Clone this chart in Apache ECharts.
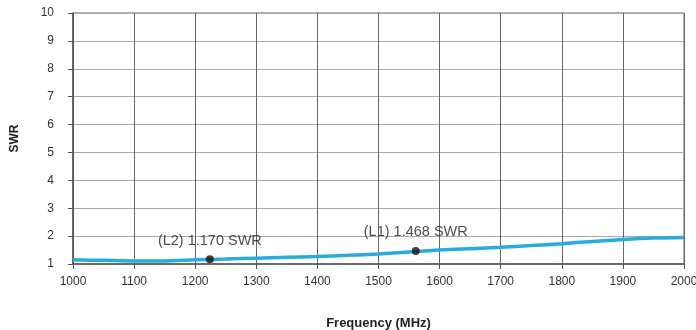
<!DOCTYPE html>
<html><head><meta charset="utf-8">
<script src="https://cdn.jsdelivr.net/npm/echarts@6/dist/echarts.min.js"></script>
<style>html,body{margin:0;padding:0;background:#fff}#c{width:696px;height:330px}</style>
</head><body><div id="c"></div>
<script>
const freq = [1000, 1050, 1100, 1150, 1200, 1250, 1300, 1350, 1400, 1450, 1500, 1550, 1600, 1650, 1700, 1750, 1800, 1850, 1900, 1950, 2000];
const swr  = [1.15, 1.13, 1.11, 1.11, 1.15, 1.18, 1.21, 1.24, 1.27, 1.31, 1.36, 1.43, 1.50, 1.55, 1.60, 1.66, 1.73, 1.81, 1.88, 1.93, 1.95];
const markerFreq = [1224, 1561];
const markerSwr = [1.170, 1.468];
const markerText = ['(L2) 1.170 SWR', '(L1) 1.468 SWR'];
const xTicks = [1000, 1100, 1200, 1300, 1400, 1500, 1600, 1700, 1800, 1900, 2000];
const yTicks = [1, 2, 3, 4, 5, 6, 7, 8, 9, 10];

const chart = echarts.init(document.getElementById('c'));
const font = 'Liberation Sans, Arial, sans-serif';
chart.setOption({
  animation: false,
  grid: {left: 73, right: 12, top: 13, bottom: 66, show: true, borderColor: '#666', borderWidth: 1,
         backgroundColor: 'transparent', containLabel: false, outerBoundsMode: 'none'},
  xAxis: {
    type: 'value', min: xTicks[0], max: xTicks[xTicks.length-1], interval: 100,
    name: 'Frequency (MHz)', nameLocation: 'middle', nameGap: 53,
    nameTextStyle: {fontFamily: font, fontWeight: 'bold', fontSize: 13, color: '#222'},
    axisLine: {show: true, lineStyle: {color: '#555', width: 1.5}},
    axisTick: {show: true, length: 5, lineStyle: {color: '#555'}},
    axisLabel: {margin: 12, fontFamily: font, fontSize: 12, color: '#333', formatter: v => String(v)},
    splitLine: {show: true, lineStyle: {color: '#666', width: 1}}
  },
  yAxis: {
    type: 'value', min: yTicks[0], max: yTicks[yTicks.length-1], interval: 1,
    name: 'SWR', nameLocation: 'middle', nameGap: 52, nameRotate: 90,
    nameTextStyle: {fontFamily: font, fontWeight: 'bold', fontSize: 12, color: '#222'},
    axisLine: {show: true, lineStyle: {color: '#555', width: 1.5}},
    axisTick: {show: true, length: 5, lineStyle: {color: '#555'}},
    axisLabel: {margin: 19, fontFamily: font, fontSize: 12, color: '#333', formatter: v => String(v)},
    splitLine: {show: true, lineStyle: {color: '#aaa', width: 1}}
  },
  series: [
    {type: 'line', data: freq.map((f, i) => [f, swr[i]]), smooth: 0.3, symbol: 'none',
     lineStyle: {color: '#29abe2', width: 3.5}, z: 3},
    {type: 'scatter', data: markerFreq.map((f, i) => ({value: [f, markerSwr[i]], label: {formatter: markerText[i]}})),
     symbol: 'circle', symbolSize: 8, itemStyle: {color: '#111'}, z: 4,
     label: {show: true, position: 'top', distance: 7, fontFamily: font, fontSize: 14.5, color: '#222'}}
  ]
});
</script></body></html>
